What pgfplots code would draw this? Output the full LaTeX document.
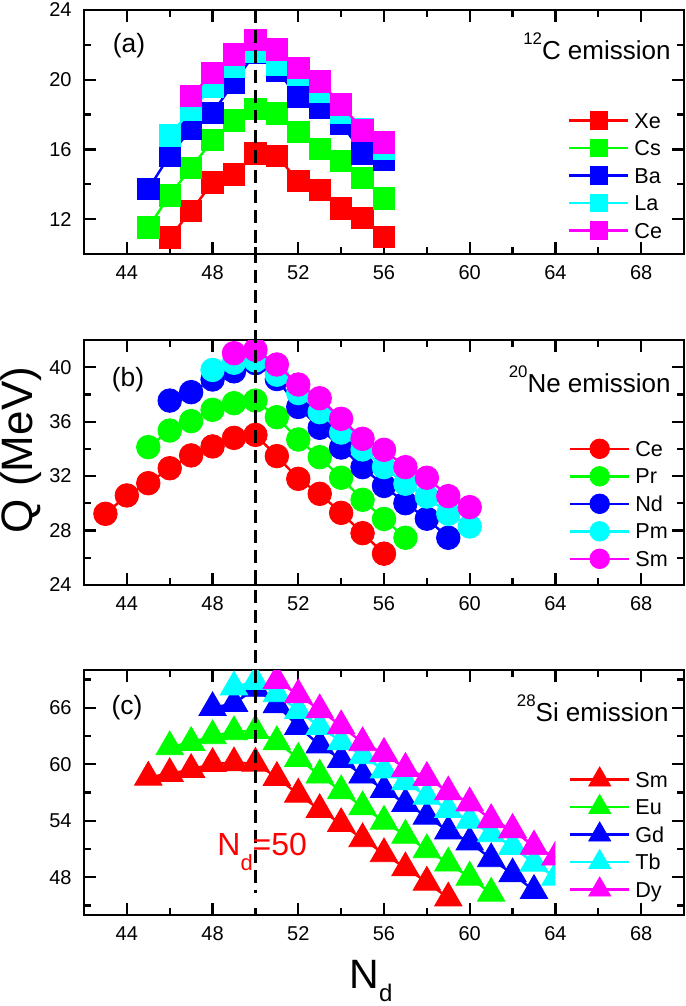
\documentclass[border=0pt]{standalone}
\usepackage{fontspec}
\setmainfont{Liberation Sans}
\usepackage{pgfplots}
\pgfplotsset{compat=1.18}
\definecolor{cR}{RGB}{255,0,0}
\definecolor{cG}{RGB}{0,255,0}
\definecolor{cB}{RGB}{0,0,255}
\definecolor{cC}{RGB}{0,255,255}
\definecolor{cM}{RGB}{255,0,255}
\pgfplotsset{
  panel/.style={
    scale only axis, width=300pt,
    xmin=42, xmax=70, xtick={40,44,...,72}, minor x tick num=1, minor y tick num=1,
    tick align=inside, xtick pos=both, ytick pos=both, xticklabel pos=lower, yticklabel pos=left,
    major tick length=5.8pt, minor tick length=3.3pt,
    tick style={line width=1.1pt, black},
    axis line style={line width=1.3pt},
    tick label style={font=\fontsize{10}{12}\selectfont},
    /pgf/number format/assume math mode=true,
    xticklabel style={yshift=-2.4pt}, yticklabel style={xshift=-2.7pt},
    clip=true, clip marker paths=true,
    legend cell align=left,
    legend style={draw=none, fill=none, inner sep=0pt, outer sep=0pt, anchor=west, row sep=0pt,
      font=\fontsize{10.8}{12}\selectfont,
      nodes={inner sep=0pt, text height=10.7pt, text depth=3.05pt},
      /tikz/every odd column/.append style={column sep=2.5pt}},
    legend image code/.code={\draw[mark repeat=2,mark phase=2,##1] plot coordinates {(0pt,0pt)(14.75pt,0pt)(29.5pt,0pt)};},
    every axis plot/.append style={line width=1.2pt},
  },
  ser/.style={color=#1, mark options={fill=#1, draw=#1, solid, line width=0.4pt}},
}
\begin{document}
\begin{tikzpicture}
\useasboundingbox (-42pt,5pt) rectangle (300.5pt,-498pt);
% ---------------- panel (a) ----------------
\begin{axis}[panel, name=pa, at={(0pt,0pt)}, anchor=north west, height=122pt,
  ymin=10, ymax=24, ytick={8,12,...,24},
  every axis plot/.append style={mark=square*, mark size=5.35pt},
  legend image post style={mark size=4.3pt},
  legend style={at={(axis description cs:0.8067,0.3223)}}]
\addplot[ser=cR] coordinates {(46,10.95) (47,12.48) (48,14.1) (49,14.57) (50,15.77) (51,15.62) (52,14.19) (53,13.69) (54,12.61) (55,12.06) (56,10.97)};
\addlegendentry{Xe}
\addplot[ser=cG] coordinates {(45,11.52) (46,13.37) (47,14.95) (48,16.53) (49,17.66) (50,18.33) (51,18.06) (52,17.01) (53,16.02) (54,15.35) (55,14.36) (56,13.2)};
\addlegendentry{Cs}
\addplot[ser=cB] coordinates {(45,13.73) (46,15.66) (47,17.17) (48,18.1) (49,19.84) (50,21.55) (51,20.5) (52,19.04) (53,18.41) (54,17.5) (55,15.77) (56,15.4)};
\addlegendentry{Ba}
\addplot[ser=cC] coordinates {(46,16.8) (47,18.27) (48,19.6) (49,20.75) (50,21.62) (51,20.85) (52,20.31) (53,19.3) (54,18.13) (55,17.15) (56,16.03)};
\addlegendentry{La}
\addplot[ser=cM] coordinates {(47,19.07) (48,20.4) (49,21.45) (50,22.3) (51,21.73) (52,20.67) (53,19.9) (54,18.59) (55,17.1) (56,16.4)};
\addlegendentry{Ce}
\coordinate (topA) at (axis cs:50,24);
\end{axis}
% ---------------- panel (b) ----------------
\begin{axis}[panel, name=pb, at={(0pt,-165pt)}, anchor=north west, height=122.5pt,
  ymin=24, ymax=42, ytick={24,28,...,44},
  every axis plot/.append style={mark=*, mark size=5.9pt},
  legend image post style={mark size=4.9pt},
  legend style={at={(axis description cs:0.8083,0.3314)}}]
\addplot[ser=cR] coordinates {(43,29.23) (44,30.58) (45,31.48) (46,32.58) (47,33.52) (48,34.18) (49,34.81) (50,35.03) (51,33.47) (52,31.8) (53,30.7) (54,29.3) (55,27.81) (56,26.3)};
\addlegendentry{Ce}
\addplot[ser=cG] coordinates {(45,34.13) (46,35.35) (47,36.04) (48,36.87) (49,37.36) (50,37.55) (51,36.33) (52,34.69) (53,33.39) (54,31.88) (55,30.26) (56,28.85) (57,27.47)};
\addlegendentry{Pr}
\addplot[ser=cB] coordinates {(46,37.55) (47,38.17) (48,39.1) (49,39.7) (50,40.3) (51,39.13) (52,37.08) (53,35.55) (54,34.1) (55,32.66) (56,31.28) (57,30.01) (58,28.87) (59,27.47)};
\addlegendentry{Nd}
\addplot[ser=cC] coordinates {(48,39.8) (49,40.33) (50,40.5) (51,39.45) (52,38.1) (53,36.7) (54,35.2) (55,33.96) (56,32.66) (57,31.44) (58,30.5) (59,29.23) (60,28.3)};
\addlegendentry{Pm}
\addplot[ser=cM] coordinates {(49,41.03) (50,41.28) (51,40.2) (52,38.73) (53,37.72) (54,36.21) (55,34.74) (56,33.93) (57,32.66) (58,31.88) (59,30.53) (60,29.72)};
\addlegendentry{Sm}
\end{axis}
% ---------------- panel (c) ----------------
\begin{axis}[panel, name=pc, at={(0pt,-330pt)}, anchor=north west, height=122.5pt,
  ymin=44, ymax=70, ytick={42,48,...,72},
  every axis plot/.append style={mark=triangle*, mark size=7.9pt},
  legend image post style={mark size=6.35pt},
  legend style={at={(axis description cs:0.8083,0.3278)}}]
\addplot[ser=cR] coordinates {(45,58.62) (46,59.0) (47,59.43) (48,60.07) (49,60.14) (50,60.1) (51,58.59) (52,56.82) (53,55.18) (54,53.69) (55,52.09) (56,50.5) (57,49.0) (58,47.48) (59,45.8)};
\addlegendentry{Sm}
\addplot[ser=cG] coordinates {(46,61.85) (47,62.3) (48,63.02) (49,63.44) (50,63.56) (51,62.39) (52,60.61) (53,58.84) (54,57.17) (55,55.47) (56,53.94) (57,52.45) (58,50.92) (59,49.5) (60,48.01) (61,46.3)};
\addlegendentry{Eu}
\addplot[ser=cB] coordinates {(48,66.0) (49,66.45) (50,68.05) (51,66.3) (52,63.99) (53,62.04) (54,60.5) (55,58.84) (56,57.31) (57,55.82) (58,54.48) (59,52.91) (60,51.74) (61,49.96) (62,48.36) (63,46.6)};
\addlegendentry{Gd}
\addplot[ser=cC] coordinates {(49,68.2) (50,68.78) (51,67.47) (52,65.69) (53,63.99) (54,62.39) (55,60.9) (56,59.38) (57,58.13) (58,56.6) (59,55.18) (60,54.04) (61,52.62) (62,51.28) (63,49.5)};
\addlegendentry{Tb}
\addplot[ser=cM] coordinates {(51,68.88) (52,67.36) (53,65.77) (54,64.07) (55,62.28) (56,61.14) (57,59.55) (58,58.59) (59,57.06) (60,55.89) (61,54.11) (62,53.05) (63,51.28)};
\addlegendentry{Dy}
\coordinate (botC) at (axis cs:50,46.3);
\end{axis}
% overlay: same scale as panel (c), clipped at N=64 (the last points are cut in half)
\begin{axis}[panel, name=pc2, at={(0pt,-330pt)}, anchor=north west, height=122.5pt,
  width=235.7143pt, xmin=42, xmax=64, ymin=44, ymax=70, hide axis,
  every axis plot/.append style={mark=triangle*, mark size=7.9pt}]
\addplot[ser=cC] coordinates {(62,51.28) (63,49.5) (64,48.0)};
\addplot[ser=cM] coordinates {(62,53.05) (63,51.28) (64,50.14)};
\end{axis}
% ---------------- decorations ----------------
\draw[line width=1.35pt, dash pattern=on 6.5pt off 3.5pt] (topA) -- (botC);
\node[rotate=90, inner sep=0pt, font=\fontsize{22}{26}\selectfont] at (-31.5pt,-220pt) {Q (MeV)};
\node[anchor=base west, inner sep=0pt, font=\fontsize{20.5}{24}\selectfont] at (132.5pt,-489pt) {N\raisebox{-6.8pt}{\fontsize{12}{14}\selectfont d}};
\node[anchor=base west, inner sep=0pt, text=cR, font=\fontsize{16}{19}\selectfont] at (66.5pt,-422.5pt) {N\raisebox{-7.5pt}{\fontsize{11}{13}\selectfont d}=50};
\node[inner sep=0pt, font=\fontsize{13.2}{15}\selectfont] at (22.5pt,-18pt) {(a)};
\node[inner sep=0pt, font=\fontsize{13.2}{15}\selectfont] at (22pt,-185pt) {(b)};
\node[inner sep=0pt, font=\fontsize{13.2}{15}\selectfont] at (21.5pt,-349pt) {(c)};
\node[anchor=base east, inner sep=0pt, font=\fontsize{13}{15}\selectfont] at (293.5pt,-25pt) {\raisebox{7.5pt}{\fontsize{8.4}{10}\selectfont 12}C emission};
\node[anchor=base east, inner sep=0pt, font=\fontsize{13}{15}\selectfont] at (293.5pt,-191.35pt) {\raisebox{7.5pt}{\fontsize{8.4}{10}\selectfont 20}Ne emission};
\node[anchor=base east, inner sep=0pt, font=\fontsize{13}{15}\selectfont] at (292.5pt,-355.5pt) {\raisebox{7.5pt}{\fontsize{8.4}{10}\selectfont 28}Si emission};
\end{tikzpicture}
\end{document}
